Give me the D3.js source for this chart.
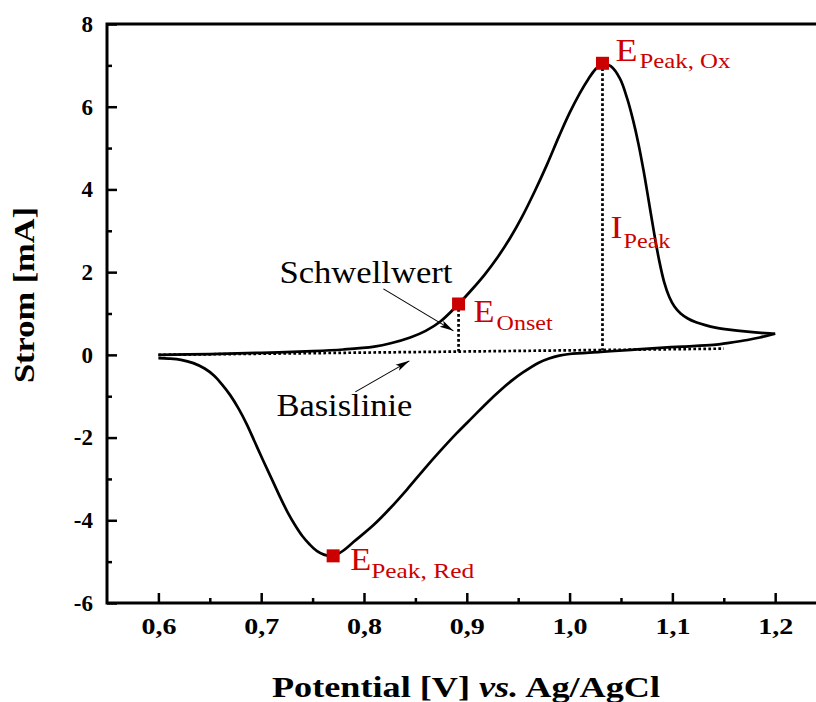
<!DOCTYPE html>
<html>
<head>
<meta charset="utf-8">
<script src="https://cdn.jsdelivr.net/npm/d3@7"></script>
<style>
  html, body { margin: 0; padding: 0; background: #fff; }
  svg { display: block; }
</style>
</head>
<body>
<svg id="chart" width="816" height="702"></svg>
<script>
// ---------- data ----------
// forward (oxidative) scan, 0.6 V -> 1.2 V
const fwdV = [0.60, 0.65, 0.70, 0.75, 0.78, 0.81, 0.826, 0.845, 0.86, 0.874, 0.892, 0.905, 0.918, 0.93, 0.942, 0.954, 0.966, 0.978, 0.99, 1.00, 1.01, 1.018, 1.025, 1.032, 1.04, 1.049, 1.056, 1.062, 1.067, 1.072, 1.077, 1.082, 1.087, 1.092, 1.097, 1.102, 1.108, 1.115, 1.123, 1.132, 1.142, 1.155, 1.173, 1.19, 1.20];
const fwdI = [0.00, 0.02, 0.05, 0.09, 0.13, 0.20, 0.28, 0.42, 0.58, 0.80, 1.23, 1.58, 1.96, 2.36, 2.82, 3.35, 3.95, 4.60, 5.30, 5.85, 6.33, 6.66, 6.90, 7.04, 6.98, 6.68, 6.20, 5.65, 5.10, 4.45, 3.72, 2.98, 2.30, 1.76, 1.40, 1.17, 1.00, 0.88, 0.79, 0.72, 0.66, 0.61, 0.56, 0.525, 0.51];
// reverse (reductive) scan, 1.2 V -> 0.6 V
const revV = [1.20, 1.185, 1.173, 1.155, 1.14, 1.11, 1.088, 1.06, 1.03, 1.00, 0.99, 0.98, 0.97, 0.955, 0.945, 0.933, 0.92, 0.906, 0.89, 0.874, 0.858, 0.842, 0.825, 0.809, 0.79, 0.78, 0.774, 0.768, 0.761, 0.754, 0.747, 0.74, 0.733, 0.726, 0.719, 0.711, 0.702, 0.694, 0.686, 0.678, 0.67, 0.662, 0.654, 0.645, 0.634, 0.622, 0.61, 0.60];
const revI = [0.51, 0.42, 0.36, 0.29, 0.24, 0.20, 0.17, 0.12, 0.07, 0.02, -0.02, -0.09, -0.19, -0.42, -0.60, -0.85, -1.15, -1.50, -1.90, -2.33, -2.78, -3.25, -3.72, -4.12, -4.52, -4.73, -4.82, -4.86, -4.83, -4.74, -4.58, -4.38, -4.12, -3.82, -3.47, -3.04, -2.56, -2.12, -1.68, -1.30, -0.98, -0.72, -0.50, -0.33, -0.20, -0.12, -0.09, -0.08];
// baseline (dotted)
const baseV = [0.60, 1.15];
const baseI = [0.00, 0.15];
// marked points: onset, oxidation peak, reduction peak
const markV = [0.892, 1.032, 0.770];
const markI = [1.23, 7.05, -4.86];
// annotations (text anchor, arrow start, arrow tip) in data units
const noteText = ["Schwellwert", "Basislinie"];
const noteV = [0.7177, 0.7148];
const noteI = [1.741, -1.475];
const arrowFromV = [0.8189, 0.7916];
const arrowFromI = [1.596, -0.895];
const arrowToV = [0.887, 0.8442];
const arrowToI = [0.58, -0.145];
// ticks
const xTicks = [0.6, 0.7, 0.8, 0.9, 1.0, 1.1, 1.2];
const xTickLabels = ["0,6", "0,7", "0,8", "0,9", "1,0", "1,1", "1,2"];
const xMinor = [0.65, 0.75, 0.85, 0.95, 1.05, 1.15];
const yTicks = [-6, -4, -2, 0, 2, 4, 6, 8];
const yTickLabels = ["-6", "-4", "-2", "0", "2", "4", "6", "8"];
const yMinor = [-5, -3, -1, 1, 3, 5, 7];

// ---------- layout ----------
const FONT = "'Liberation Serif', 'Times New Roman', serif";
const RED = "#cc0000";
const svg = d3.select("#chart");
const x = d3.scaleLinear().domain([0.55, 1.24]).range([107, 816.3]);
const y = d3.scaleLinear().domain([-6, 8]).range([603, 24]);

svg.append("defs").append("marker")
  .attr("id", "arrow").attr("markerUnits", "userSpaceOnUse")
  .attr("viewBox", "0 0 14 10").attr("refX", 14).attr("refY", 5)
  .attr("markerWidth", 14).attr("markerHeight", 10).attr("orient", "auto")
  .append("path").attr("d", "M0,1.5 L14,5 L0,8.5 L3,5 Z").attr("fill", "#000");

// axes
const xMaj = svg.append("g").attr("transform", `translate(0,${y(-6)})`)
  .call(d3.axisBottom(x).tickValues(xTicks).tickSize(-10).tickPadding(15)
    .tickFormat((d, i) => xTickLabels[i]));
svg.append("g").attr("transform", `translate(0,${y(-6)})`)
  .call(d3.axisBottom(x).tickValues(xMinor).tickSize(-5).tickFormat(""));
const yMaj = svg.append("g").attr("transform", `translate(${x(0.55)},0)`)
  .call(d3.axisLeft(y).tickValues(yTicks).tickSize(-10).tickPadding(14)
    .tickFormat((d, i) => yTickLabels[i]));
svg.append("g").attr("transform", `translate(${x(0.55)},0)`)
  .call(d3.axisLeft(y).tickValues(yMinor).tickSize(-5).tickFormat(""));
svg.selectAll(".domain").remove();
svg.selectAll(".tick line").attr("stroke", "#000").attr("stroke-width", 2.5);
svg.selectAll(".tick text").attr("fill", "#000")
  .style("font-family", FONT).style("font-weight", "bold").style("font-size", "23px");
xMaj.selectAll(".tick text").attr("textLength", 35).attr("lengthAdjust", "spacingAndGlyphs");

// frame (left, bottom, top)
svg.append("path")
  .attr("d", `M${x(1.24) + 5},${y(8)} H${x(0.55)} V${y(-6)} H${x(1.24) + 5}`)
  .attr("fill", "none").attr("stroke", "#000").attr("stroke-width", 3);

// axis titles
const xt = svg.append("text").attr("x", 466).attr("y", 697).attr("text-anchor", "middle")
  .style("font-family", FONT).style("font-weight", "bold").style("font-size", "30px")
  .attr("textLength", 388).attr("lengthAdjust", "spacingAndGlyphs");
xt.append("tspan").text("Potential [V] ");
xt.append("tspan").style("font-style", "italic").text("vs.");
xt.append("tspan").text(" Ag/AgCl");
svg.append("text").attr("transform", "translate(34,295) rotate(-90)").attr("text-anchor", "middle")
  .style("font-family", FONT).style("font-weight", "bold").style("font-size", "30px")
  .attr("textLength", 176).attr("lengthAdjust", "spacingAndGlyphs")
  .text("Strom [mA]");

// dotted helper lines
const dot = { stroke: "#000", "stroke-width": 2.7, "stroke-dasharray": "2.7,2.3", fill: "none" };
const lineGen = d3.line().x(d => x(d[0])).y(d => y(d[1]));
const basePath = svg.append("path").datum(baseV.map((v, i) => [v, baseI[i]])).attr("d", lineGen);
const baseAt = v => baseI[0] + (baseI[1] - baseI[0]) * (v - baseV[0]) / (baseV[1] - baseV[0]);
const v1 = svg.append("path").datum([[markV[0], markI[0]], [markV[0], baseAt(markV[0])]]).attr("d", lineGen);
const v2 = svg.append("path").datum([[markV[1], markI[1]], [markV[1], baseAt(markV[1])]]).attr("d", lineGen);
[basePath, v1, v2].forEach(p => Object.entries(dot).forEach(([k, val]) => p.attr(k, val)));

// CV curve
const curveGen = d3.line().x(d => x(d[0])).y(d => y(d[1])).curve(d3.curveCatmullRom.alpha(0.5));
svg.append("path").datum(fwdV.map((v, i) => [v, fwdI[i]])).attr("d", curveGen)
  .attr("fill", "none").attr("stroke", "#000").attr("stroke-width", 2.7).attr("stroke-linejoin", "round");
svg.append("path").datum(revV.map((v, i) => [v, revI[i]])).attr("d", curveGen)
  .attr("fill", "none").attr("stroke", "#000").attr("stroke-width", 2.7).attr("stroke-linejoin", "round");

// annotation arrows + text
noteText.forEach((t, i) => {
  svg.append("line")
    .attr("x1", x(arrowFromV[i])).attr("y1", y(arrowFromI[i]))
    .attr("x2", x(arrowToV[i])).attr("y2", y(arrowToI[i]))
    .attr("stroke", "#000").attr("stroke-width", 1.1).attr("marker-end", "url(#arrow)");
  svg.append("text").attr("x", x(noteV[i])).attr("y", y(noteI[i]))
    .style("font-family", FONT).style("font-size", "31px")
    .attr("textLength", i === 0 ? 173 : 136).attr("lengthAdjust", "spacingAndGlyphs")
    .text(t);
});

// markers
svg.selectAll("rect.mark").data(markV).enter().append("rect").attr("class", "mark")
  .attr("x", (d) => x(d) - 6.5).attr("y", (d, i) => y(markI[i]) - 6.5)
  .attr("width", 13).attr("height", 13).attr("fill", RED);

// red labels: [main, sub, anchor x, anchor y, dx main, dy main, main length, dx sub, dy sub, sub length]
const labels = [
  ["E", "Onset", markV[0], markI[0], 15, 18, 21, 38, 26, 56],
  ["E", "Peak, Ox", markV[1], markI[1], 13, -2, 22, 37, 5, 91],
  ["I", "Peak", markV[1], 2.9, 8, 3, 12, 21, 13, 47],
  ["E", "Peak, Red", markV[2], markI[2], 17, 14, 21, 38, 22, 103]
];
labels.forEach(l => {
  const ax = x(l[2]), ay = y(l[3]);
  svg.append("text").attr("x", ax + l[4]).attr("y", ay + l[5]).attr("fill", RED)
    .style("font-family", FONT).style("font-size", "32px")
    .attr("textLength", l[6]).attr("lengthAdjust", "spacingAndGlyphs").text(l[0]);
  svg.append("text").attr("x", ax + l[7]).attr("y", ay + l[8]).attr("fill", RED)
    .style("font-family", FONT).style("font-size", "21px")
    .attr("textLength", l[9]).attr("lengthAdjust", "spacingAndGlyphs").text(l[1]);
});
</script>
</body>
</html>
